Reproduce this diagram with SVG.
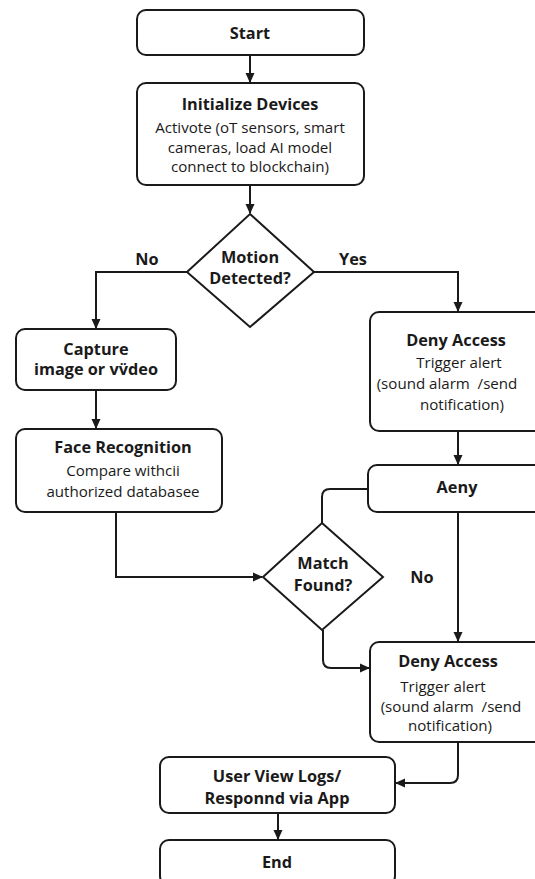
<svg xmlns="http://www.w3.org/2000/svg" width="535" height="879" viewBox="0 0 535 879">
<defs>
<marker id="arr" markerWidth="10" markerHeight="10" refX="9" refY="5" orient="auto" markerUnits="userSpaceOnUse">
<path d="M0,0.5 L10,5 L0,9.5 Z" fill="#1a1a1a"/>
</marker>
<style>
.box{fill:#fff;stroke:#1a1a1a;stroke-width:2}
.t{font-family:"Open Sans","Noto Sans",sans-serif;font-weight:bold;font-size:16.3px;fill:#1a1a1a;text-anchor:middle}
.b{font-family:"Open Sans","Noto Sans",sans-serif;font-size:15.1px;fill:#1a1a1a;text-anchor:middle}
.c{fill:none;stroke:#1a1a1a;stroke-width:2}
</style>
</defs>
<rect width="535" height="879" fill="#fff"/>
<g id="connectors">
<path class="c" d="M250 55 V82" marker-end="url(#arr)"/>
<path class="c" d="M250 185 V213" marker-end="url(#arr)"/>
<path class="c" d="M187 272 H96 V328" marker-end="url(#arr)"/>
<path class="c" d="M314 272 H458 V311" marker-end="url(#arr)"/>
<path class="c" d="M96 390 V428" marker-end="url(#arr)"/>
<path class="c" d="M458 431 V464" marker-end="url(#arr)"/>
<path class="c" d="M116 512 V577 H262" marker-end="url(#arr)"/>
<path class="c" d="M368 489 H330 Q322 489 322 497 V523"/>
<path class="c" d="M458 512 V641" marker-end="url(#arr)"/>
<path class="c" d="M323 630 V660 Q323 668 331 668 H369" marker-end="url(#arr)"/>
<path class="c" d="M458 742 V775 Q458 783 450 783 H396" marker-end="url(#arr)"/>
<path class="c" d="M278 813 V839" marker-end="url(#arr)"/>
<text class="t" x="147" y="265">No</text>
<text class="t" x="353" y="265">Yes</text>
<text class="t" x="422" y="583">No</text>
</g>
<g id="start">
<rect class="box" x="137" y="10" width="227" height="45" rx="9"/>
<text class="t" x="250" y="39">Start</text>
</g>
<g id="init">
<rect class="box" x="137" y="83" width="227" height="102" rx="9"/>
<text class="t" x="250" y="110">Initialize Devices</text>
<text class="b" x="250" y="133">Activote (oT sensors, smart</text>
<text class="b" x="250" y="152.5">cameras, load AI model</text>
<text class="b" x="250" y="172">connect to blockchain)</text>
</g>
<g id="motion">
<polygon class="box" points="250,214 314,272 250,327 187,272"/>
<text class="t" x="250" y="263">Motion</text>
<text class="t" x="250" y="284">Detected?</text>
</g>
<g id="capture">
<rect class="box" x="16" y="329" width="160" height="61" rx="9"/>
<text class="t" x="96" y="355">Capture</text>
<text class="t" x="96" y="375">image or vv̈deo</text>
</g>
<g id="face">
<rect class="box" x="16" y="429" width="206" height="83" rx="9"/>
<text class="t" x="123" y="453">Face Recognition</text>
<text class="b" x="123" y="476">Compare withcii</text>
<text class="b" x="123" y="497">authorized databasee</text>
</g>
<g id="deny1">
<rect class="box" x="370" y="312" width="175" height="119" rx="9"/>
<text class="t" x="456" y="346">Deny Access</text>
<text class="b" x="459" y="368">Trigger alert</text>
<text class="b" x="447" y="389">(sound alarm&#160; /send</text>
<text class="b" x="462" y="410">notification)</text>
</g>
<g id="aeny">
<rect class="box" x="368" y="465" width="177" height="47" rx="9"/>
<text class="t" x="457" y="493">Aeny</text>
</g>
<g id="match">
<polygon class="box" points="322,523 383,577 322,630 263,577"/>
<text class="t" x="323" y="569">Match</text>
<text class="t" x="323" y="591">Found?</text>
</g>
<g id="deny2">
<rect class="box" x="370" y="642" width="175" height="100" rx="9"/>
<text class="t" x="448" y="667">Deny Access</text>
<text class="b" x="443" y="692">Trigger alert</text>
<text class="b" x="451" y="712">(sound alarm&#160; /send</text>
<text class="b" x="450" y="731">notification)</text>
</g>
<g id="user">
<rect class="box" x="160" y="757" width="235" height="56" rx="9"/>
<text class="t" x="277" y="782">User View Logs/</text>
<text class="t" x="277" y="804">Responnd via App</text>
</g>
<g id="end">
<rect class="box" x="160" y="840" width="235" height="45" rx="9"/>
<text class="t" x="277" y="868">End</text>
</g>
</svg>
